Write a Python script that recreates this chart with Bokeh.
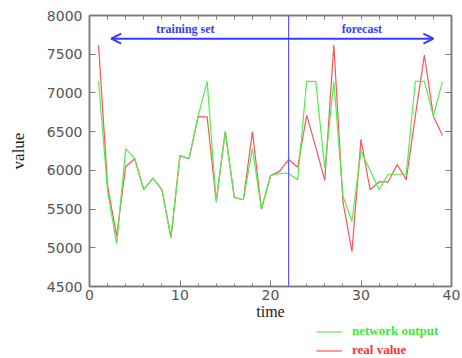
from bokeh.plotting import figure
from bokeh.layouts import column
from bokeh.models import (Range1d, LinearAxis, SingleIntervalTicker, Span, Arrow,
                          OpenHead, Label, Legend, LegendItem)
from bokeh.embed import file_html
from bokeh.resources import INLINE

# ---- data ----
time = list(range(1, 40))
network_output = [7150, 5730, 5050, 6280, 6150, 5750, 5900, 5750, 5130, 6190,
                  6150, 6700, 7150, 5600, 6500, 5650, 5620, 6280, 5500, 5930,
                  5960, 5960, 5880, 7150, 7150, 6020, 7150, 5670, 5340, 6250,
                  6000, 5750, 5950, 5950, 5950, 7150, 7150, 6700, 7150]
real_value = [7620, 5800, 5150, 6050, 6150, 5750, 5900, 5750, 5130, 6190,
              6150, 6690, 6690, 5600, 6500, 5650, 5620, 6500, 5500, 5930,
              5990, 6140, 6040, 6710, 6300, 5870, 7620, 5600, 4950, 6400,
              5750, 5850, 5850, 6075, 5880, 6700, 7490, 6700, 6450]
split_time = 22
x_limits = (0, 40)
y_limits = (4500, 8000)
training_label = "training set"
forecast_label = "forecast"
series_names = ["network output", "real value"]

GRAY = "#7a7a7a"
LABEL_GRAY = "#555555"
BLUE = "#3a3aff"
GREEN = "#4cf04c"
RED = "#ff5252"

p = figure(width=460, height=324, output_backend="svg", toolbar_location=None,
           x_range=Range1d(*x_limits), y_range=Range1d(*y_limits),
           min_border_left=89, min_border_right=9, min_border_top=15,
           min_border_bottom=38, x_axis_label="time", y_axis_label="value")
p.grid.visible = False
p.outline_line_color = GRAY
p.outline_line_width = 1.5
p.background_fill_color = "white"
p.border_fill_color = "white"

def style_axis(ax, labels=True):
    ax.axis_line_color = GRAY
    ax.axis_line_width = 1.5
    ax.major_tick_line_color = GRAY
    ax.minor_tick_line_color = GRAY
    ax.major_tick_in = 6
    ax.major_tick_out = 0
    ax.minor_tick_in = 3
    ax.minor_tick_out = 0
    if labels:
        ax.major_label_text_font = "DejaVu Sans"
        ax.major_label_text_font_size = "14px"
        ax.major_label_text_color = LABEL_GRAY
        ax.axis_label_text_font = "Liberation Serif"
        ax.axis_label_text_font_style = "normal"
        ax.axis_label_text_font_size = "17px"
        ax.axis_label_text_color = "#222222"
    else:
        ax.major_label_text_font_size = "0px"
        ax.major_label_standoff = 0

xa = p.xaxis[0]
xa.ticker = SingleIntervalTicker(interval=10, num_minor_ticks=5)
style_axis(xa)
xa.major_label_standoff = 3
xa.axis_label_standoff = 0
xa.axis_label_text_font_size = "16px"

ya = p.yaxis[0]
ya.ticker = SingleIntervalTicker(interval=500, num_minor_ticks=0)
style_axis(ya)
ya.major_label_standoff = 7
ya.axis_label_standoff = 16

top = LinearAxis(ticker=SingleIntervalTicker(interval=2, num_minor_ticks=0))
style_axis(top, labels=False)
top.major_tick_in = 4
p.add_layout(top, "above")

right = LinearAxis(ticker=SingleIntervalTicker(interval=500, num_minor_ticks=0))
style_axis(right, labels=False)
p.add_layout(right, "right")

p.line(time, real_value, line_color=RED, line_width=1.2)
p.line(time, network_output, line_color=GREEN, line_width=1.2)

p.add_layout(Span(location=split_time, dimension="height", line_color="#5a5aff",
                  line_width=1.2))

arrow = Arrow(start=OpenHead(size=10, line_color=BLUE, line_width=2),
              end=OpenHead(size=10, line_color=BLUE, line_width=2),
              x_start=2.4, y_start=7700, x_end=38.0, y_end=7700,
              line_color=BLUE, line_width=2)
p.add_layout(arrow)

for txt, xx in [(training_label, 10.6), (forecast_label, 30.1)]:
    p.add_layout(Label(x=xx, y=7830, text=txt, text_align="center",
                       text_baseline="middle", text_font="Liberation Serif",
                       text_font_style="bold", text_font_size="12px",
                       text_color=BLUE))

# ---- key strip below the plot ----
lg = figure(width=460, height=34, output_backend="svg", toolbar_location=None,
            x_range=Range1d(0, 1), y_range=Range1d(0, 1),
            x_axis_type=None, y_axis_type=None,
            min_border_left=0, min_border_right=0, min_border_top=0,
            min_border_bottom=0)
lg.grid.visible = False
lg.outline_line_color = None
lg.background_fill_color = "white"
lg.border_fill_color = "white"

# single-point lines draw nothing themselves; they only provide key swatches
key_green = lg.line(x=[0.0], y=[0.0], line_color=GREEN, line_width=1.2)
key_red = lg.line(x=[0.0], y=[0.0], line_color=RED, line_width=1.2)

def make_legend(label, rend, color, yoff):
    return Legend(items=[LegendItem(label=label, renderers=[rend])],
                  location=(227, yoff), orientation="vertical",
                  padding=0, margin=0, spacing=0,
                  glyph_width=26, glyph_height=15, label_standoff=10,
                  label_height=15,
                  label_text_font="Liberation Serif", label_text_font_style="bold",
                  label_text_font_size="13px", label_text_color=color,
                  border_line_alpha=0, background_fill_alpha=0)

lg.add_layout(make_legend(series_names[0], key_green, "#33ee33", 19))
lg.add_layout(make_legend(series_names[1], key_red, "#ff3333", 0))

layout = column(p, lg, spacing=0)
open("out.html", "w").write(file_html(layout, INLINE))
